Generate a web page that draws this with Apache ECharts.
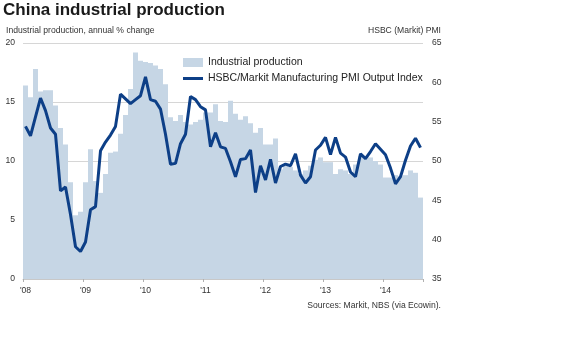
<!DOCTYPE html>
<html>
<head>
<meta charset="utf-8">
<script src="https://cdn.jsdelivr.net/npm/echarts@6/dist/echarts.min.js"></script>
<style>
html,body{margin:0;padding:0;background:#fff;}
#chart{width:586px;height:355px;}
</style>
</head>
<body>
<div id="chart"></div>
<script>
// Monthly categories Jan 2008 - Aug 2014
var years = ['08','09','10','11','12','13','14'];
var months = [];
for (var y = 0; y < years.length; y++) {
  for (var m = 1; m <= 12; m++) {
    if (years[y] === '14' && m > 8) break;
    months.push('20' + years[y] + '-' + (m < 10 ? '0' + m : m));
  }
}

// Industrial production, annual % change
var ip2008 = [16.4, 15.4, 17.8, 15.9, 16.0, 16.0, 14.7, 12.8, 11.4, 8.2, 5.4, 5.7];
var ip2009 = [8.2, 11.0, 8.3, 7.3, 8.9, 10.7, 10.8, 12.3, 13.9, 16.1, 19.2, 18.5];
var ip2010 = [18.4, 18.3, 18.1, 17.8, 16.5, 13.7, 13.4, 13.9, 13.3, 13.1, 13.3, 13.5];
var ip2011 = [14.1, 14.1, 14.8, 13.4, 13.3, 15.1, 14.0, 13.5, 13.8, 13.2, 12.4, 12.8];
var ip2012 = [11.4, 11.4, 11.9, 9.3, 9.6, 9.5, 9.2, 8.9, 9.2, 9.6, 10.1, 10.3];
var ip2013 = [9.9, 9.9, 8.9, 9.3, 9.2, 8.9, 9.7, 10.4, 10.2, 10.3, 10.0, 9.7];
var ip2014 = [8.6, 8.6, 8.8, 8.7, 8.8, 9.2, 9.0, 6.9];

// HSBC/Markit Manufacturing PMI Output Index
var pmi2008 = [54.4, 53.2, 55.6, 58.0, 56.4, 54.2, 53.4, 46.2, 46.7, 43.2, 39.1, 38.5];
var pmi2009 = [39.7, 43.8, 44.2, 51.3, 52.4, 53.3, 54.4, 58.5, 57.9, 57.3, 57.8, 58.3];
var pmi2010 = [60.7, 57.8, 57.6, 56.6, 53.4, 49.6, 49.7, 52.2, 53.4, 58.2, 57.8, 56.9];
var pmi2011 = [56.5, 51.8, 53.6, 51.8, 51.6, 49.9, 48.0, 50.2, 50.3, 51.4, 46.0, 49.4];
var pmi2012 = [47.6, 50.2, 47.2, 49.3, 49.6, 49.4, 50.9, 48.2, 47.2, 48.0, 51.4, 52.0];
var pmi2013 = [53.0, 50.8, 53.0, 51.0, 50.5, 48.6, 48.0, 50.9, 50.3, 51.2, 52.2, 51.5];
var pmi2014 = [50.8, 49.1, 47.1, 48.0, 50.1, 51.9, 52.9, 51.7];

var leftTicks = [0, 20, 5];   // min, max, interval
var rightTicks = [35, 65, 5];

var ipData = [].concat(ip2008, ip2009, ip2010, ip2011, ip2012, ip2013, ip2014);
var pmiData = [].concat(pmi2008, pmi2009, pmi2010, pmi2011, pmi2012, pmi2013, pmi2014);

var FONT = '"Liberation Sans", Arial, sans-serif';
var LINE_ICON = 'path://M0,0 L0,0 M0,3 L20,3 L20,6 L0,6 Z M20,9 L20,9';
var chart = echarts.init(document.getElementById('chart'), null, {renderer: 'canvas'});
chart.setOption({
  animation: false,
  backgroundColor: '#fff',
  textStyle: {fontFamily: FONT},
  grid: {left: 23, right: 163, top: 43, bottom: 76, containLabel: false},
  legend: {
    orient: 'vertical', left: 178, top: 52, itemGap: 5,
    itemWidth: 20, itemHeight: 9,
    textStyle: {fontFamily: FONT, fontSize: 10.5, color: '#222'},
    data: [
      {name: 'Industrial production', icon: 'rect'},
      {name: 'HSBC/Markit Manufacturing PMI Output Index', icon: LINE_ICON}
    ]
  },
  xAxis: {
    type: 'category', data: months, boundaryGap: true,
    axisLine: {show: true, lineStyle: {color: '#c8c8c8'}},
    axisTick: {show: true, interval: 11, length: 3, lineStyle: {color: '#b0b0b0'}},
    axisLabel: {
      interval: 11, fontSize: 8.6, color: '#333', margin: 7, fontFamily: FONT,
      formatter: function (v) { return "'" + v.substr(2, 2); }
    },
    splitLine: {show: false}
  },
  yAxis: [
    {
      type: 'value', min: leftTicks[0], max: leftTicks[1], interval: leftTicks[2],
      axisLine: {show: false}, axisTick: {show: false},
      axisLabel: {fontSize: 8.6, color: '#333', margin: 8, fontFamily: FONT},
      splitLine: {show: true, lineStyle: {color: '#d6d6d6', width: 1}}
    },
    {
      type: 'value', min: rightTicks[0], max: rightTicks[1], interval: rightTicks[2],
      axisLine: {show: false}, axisTick: {show: false},
      axisLabel: {fontSize: 8.6, color: '#333', margin: 9, fontFamily: FONT},
      splitLine: {show: false}
    }
  ],
  series: [
    {
      name: 'Industrial production', type: 'bar', data: ipData,
      barCategoryGap: '0%', itemStyle: {color: '#c6d6e5'}, z: 2
    },
    {
      name: 'HSBC/Markit Manufacturing PMI Output Index', type: 'line', yAxisIndex: 1,
      data: pmiData, symbol: 'none', smooth: false,
      lineStyle: {color: '#0d3f87', width: 3}, itemStyle: {color: '#0d3f87'}, z: 3
    }
  ],
  graphic: [
    {type: 'text', left: 3, top: 2, style: {text: 'China industrial production', font: 'bold 17px ' + FONT, fill: '#1a1a1a'}},
    {type: 'text', left: 6, top: 26, style: {text: 'Industrial production, annual % change', font: '8.6px ' + FONT, fill: '#333'}},
    {type: 'text', right: 145, top: 26, style: {text: 'HSBC (Markit) PMI', font: '8.6px ' + FONT, fill: '#333'}},
    {type: 'text', right: 145, top: 301, style: {text: 'Sources: Markit, NBS (via Ecowin).', font: '8.6px ' + FONT, fill: '#333'}}
  ]
});
</script>
</body>
</html>
